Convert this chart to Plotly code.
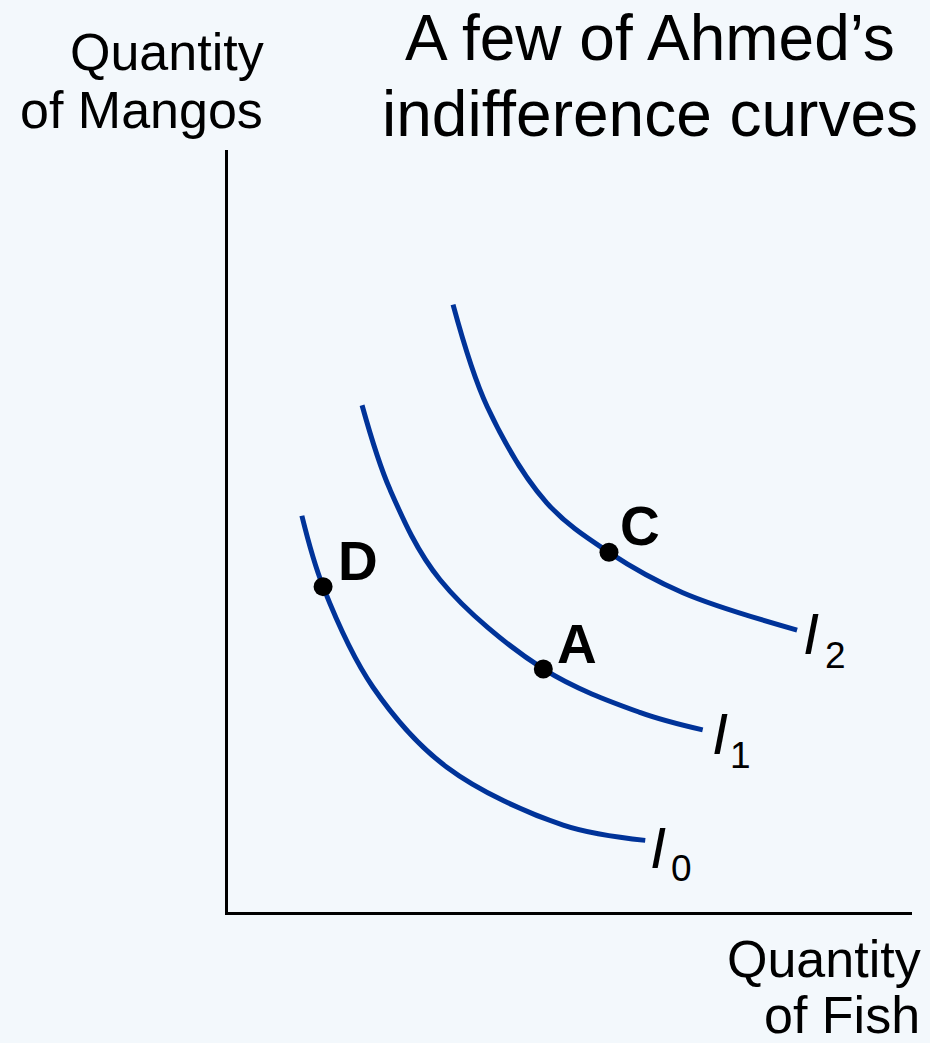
import plotly.graph_objects as go

# ---- data (arbitrary units: fish on x, mangos on y) ----
i0_x = [1.08, 1.39, 2.12, 3.20, 4.90, 6.10]
i0_y = [5.20, 4.27, 2.95, 1.90, 1.14, 0.94]
i1_x = [1.96, 2.37, 3.10, 4.61, 6.02, 6.94]
i1_y = [6.65, 5.54, 4.36, 3.19, 2.62, 2.39]
i2_x = [3.29, 3.79, 4.66, 5.57, 6.65, 8.32]
i2_y = [7.97, 6.63, 5.37, 4.72, 4.19, 3.70]
point_names = ["D", "A", "C"]
point_x = [1.39, 4.61, 5.57]
point_y = [4.27, 3.19, 4.72]
curve_names = ["0", "1", "2"]

W, H = 930, 1043
L, R, T, B = 228, 18, 150, 131
pw, ph = W - L - R, H - T - B
XR, YR = 10.0, 10.0


def paper(xp, yp):
    return (xp - L) / pw, (H - B - yp) / ph


BLUE = "#003399"
BG = "#F3F8FC"
FONT = "Liberation Sans, Arial, sans-serif"

fig = go.Figure()
for xs, ys in [(i0_x, i0_y), (i1_x, i1_y), (i2_x, i2_y)]:
    fig.add_trace(go.Scatter(x=xs, y=ys, mode="lines",
                             line=dict(color=BLUE, width=5, shape="spline", smoothing=1.0),
                             hoverinfo="skip", showlegend=False))
fig.add_trace(go.Scatter(x=point_x, y=point_y, mode="markers",
                         marker=dict(color="black", size=19), showlegend=False,
                         hoverinfo="skip"))

anns = []


def ann(text, xp, yp, size, xanchor="center"):
    x, y = paper(xp, yp)
    anns.append(dict(x=x, y=y, xref="paper", yref="paper", text=text, showarrow=False,
                     font=dict(size=size, family=FONT, color="black"),
                     xanchor=xanchor, yanchor="middle"))


for name, (xp, yp) in zip(point_names, [(358, 561), (577, 644), (640, 526)]):
    ann(f"<b>{name}</b>", xp, yp, 55)
for sub, (ixp, iyp), (sxp, syp) in zip(curve_names,
                                       [(658, 847), (720, 733), (811, 633)],
                                       [(681, 868), (740, 755), (835, 655)]):
    ann("<i>I</i>", ixp, iyp, 58)
    ann(sub, sxp, syp, 37)

ann("A few of Ahmed\u2019s", 650, 38, 64)
ann("indifference curves", 650, 114, 64)
ann("Quantity", 266, 52, 52, "right")
ann("of Mangos", 265, 110, 52, "right")
ann("Quantity", 923, 959, 52, "right")
ann("of Fish", 922, 1015, 52, "right")

fig.update_layout(
    width=W, height=H,
    margin=dict(l=L, r=R, t=T, b=B, pad=0),
    paper_bgcolor=BG, plot_bgcolor=BG,
    annotations=anns,
    xaxis=dict(range=[0, XR], showgrid=False, zeroline=False, showticklabels=False,
               ticks="", showline=True, linecolor="black", linewidth=2.5, fixedrange=True),
    yaxis=dict(range=[0, YR], showgrid=False, zeroline=False, showticklabels=False,
               ticks="", showline=True, linecolor="black", linewidth=2.5, fixedrange=True),
)

fig.write_html("out.html", config={"displayModeBar": False},
               post_script="document.body.style.margin='0';document.body.style.overflow='hidden';"
                           "document.body.style.background='" + BG + "';")
